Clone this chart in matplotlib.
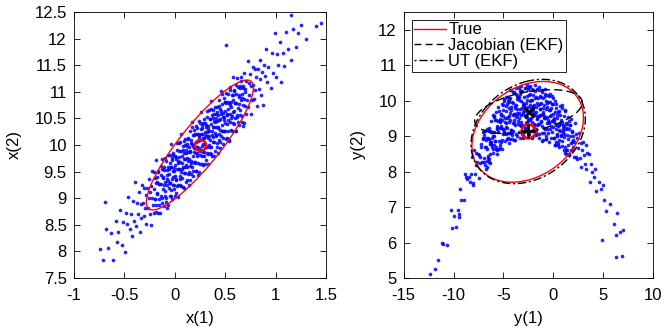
import numpy as np
import matplotlib
matplotlib.use("Agg")
import matplotlib.pyplot as plt
from matplotlib.patches import Ellipse
from matplotlib.ticker import FuncFormatter

plt.rcParams['font.family'] = ['Liberation Sans', 'DejaVu Sans']
plt.rcParams['font.size'] = 12

# samples in x-space (x(1), x(2))
x_samples = [
    (-0.74, 8.04), (-0.71, 7.83), (-0.68, 8.42), (-0.66, 8.07), (-0.63, 8.35), (-0.61, 7.84),
    (-0.58, 8.57), (-0.57, 8.18), (-0.56, 8.37), (-0.54, 8.77), (-0.52, 8.13), (-0.51, 8.56),
    (-0.49, 7.98), (-0.48, 8.72), (-0.47, 8.51), (-0.46, 9.03), (-0.44, 8.42), (-0.43, 8.71),
    (-0.42, 8.29), (-0.41, 8.94), (-0.40, 8.57), (-0.39, 9.30), (-0.38, 8.47), (-0.37, 8.91),
    (-0.36, 8.70), (-0.35, 9.11), (-0.34, 8.36), (-0.33, 8.89), (-0.33, 8.62), (-0.32, 9.24),
    (-0.31, 8.91), (-0.30, 8.66), (-0.30, 9.19), (-0.29, 8.82), (-0.28, 9.06), (-0.28, 8.51),
    (-0.27, 9.20), (-0.26, 8.81), (-0.25, 9.00), (-0.25, 9.36), (-0.24, 8.70), (-0.24, 9.11),
    (-0.23, 8.50), (-0.23, 9.22), (-0.22, 9.01), (-0.22, 9.51), (-0.21, 8.88), (-0.20, 9.17),
    (-0.20, 8.73), (-0.19, 9.38), (-0.19, 8.99), (-0.18, 9.72), (-0.18, 8.87), (-0.17, 9.31),
    (-0.17, 9.08), (-0.16, 9.49), (-0.16, 8.72), (-0.15, 9.26), (-0.15, 8.99), (-0.14, 9.61),
    (-0.14, 9.26), (-0.13, 9.01), (-0.13, 9.54), (-0.12, 9.17), (-0.69, 8.92),
    (-0.12, 9.39), (-0.11, 8.86), (-0.11, 9.53), (-0.10, 9.14), (-0.10, 9.31), (-0.09, 9.69),
    (-0.09, 9.01), (-0.08, 9.44), (-0.08, 8.81), (-0.08, 9.53), (-0.07, 9.32),
    (-0.07, 9.82), (-0.06, 9.19), (-0.06, 9.46), (-0.05, 9.04), (-0.05, 9.67), (-0.05, 9.28),
    (-0.04, 10.01), (-0.04, 9.16), (-0.04, 9.58), (-0.03, 9.37), (-0.03, 9.76), (-0.03, 8.99),
    (-0.02, 9.52), (-0.02, 9.25), (-0.02, 9.85), (-0.01, 9.52), (-0.01, 9.25), (0.00, 9.80),
    (0.00, 9.41), (0.00, 9.63), (0.01, 9.10), (0.01, 9.77), (0.01, 9.36), (0.02, 9.55),
    (0.02, 9.91), (0.03, 9.25), (0.03, 9.66), (0.03, 9.03), (0.04, 9.77), (0.04, 9.54),
    (0.04, 10.04), (0.05, 9.41), (0.05, 9.68), (0.05, 9.24), (0.06, 9.89), (0.06, 9.50),
    (0.06, 10.21), (0.07, 9.38), (0.07, 9.80), (0.08, 9.59), (0.08, 9.98), (0.08, 9.21),
    (0.09, 9.74), (0.09, 9.47), (0.09, 10.07), (0.10, 9.74), (0.10, 9.47), (0.10, 10.00),
    (0.11, 9.63), (0.11, 9.85), (0.11, 9.30), (0.12, 9.99), (0.12, 9.58), (0.12, 9.75),
    (0.13, 10.13), (0.13, 9.45), (0.13, 9.86), (0.14, 9.25), (0.14, 9.97), (0.14, 9.74),
    (0.15, 10.26), (0.15, 9.61), (0.15, 9.88), (0.16, 9.46), (0.16, 10.09), (0.16, 9.70),
    (0.17, 10.44), (0.17, 9.59), (0.17, 10.01), (0.18, 9.80), (0.18, 10.19), (0.18, 9.42),
    (0.19, 9.95), (0.19, 9.68), (0.19, 10.28), (0.20, 9.95), (0.20, 9.68), (0.20, 10.21),
    (0.21, 9.84), (0.21, 10.06), (0.21, 9.51), (0.22, 10.20), (0.22, 9.79), (0.22, 9.96),
    (0.22, 10.32), (0.23, 9.66), (0.23, 10.07), (0.23, 9.44), (0.24, 10.18), (0.24, 9.95),
    (0.24, 10.45), (0.25, 9.82), (0.25, 10.09), (0.25, 9.65), (0.26, 10.30), (0.26, 9.91),
    (0.26, 10.62), (0.27, 9.79), (0.27, 10.21), (0.27, 9.98), (0.27, 10.37), (0.28, 9.62),
    (0.28, 10.13), (0.28, 9.86), (0.29, 10.48), (0.29, 10.13), (0.29, 9.86), (0.30, 10.41),
    (0.30, 10.02), (0.30, 10.24), (0.31, 9.71), (0.31, 10.38), (0.31, 9.97), (0.32, 10.16),
    (0.32, 10.52), (0.32, 9.84), (0.32, 10.25), (0.33, 9.64), (0.33, 10.36), (0.33, 10.13),
    (0.34, 10.65), (0.34, 10.00), (0.34, 10.27), (0.35, 9.85), (0.35, 10.48), (0.35, 10.09),
    (0.36, 10.82), (0.36, 9.97), (0.36, 10.39), (0.37, 10.18), (0.37, 10.57), (0.37, 9.80),
    (0.38, 10.33), (0.38, 10.06), (0.38, 10.66), (0.39, 10.33), (0.39, 10.06), (0.39, 10.59),
    (0.40, 10.22), (0.40, 10.44), (0.40, 9.89), (0.41, 10.58), (0.41, 10.17), (0.41, 10.34),
    (0.42, 10.72), (0.42, 10.04), (0.42, 10.45), (0.43, 9.84), (0.43, 10.56), (0.43, 10.33),
    (0.44, 10.85), (0.44, 10.20), (0.44, 10.47), (0.45, 10.05), (0.45, 10.68), (0.45, 10.29),
    (0.46, 11.02), (0.46, 10.17), (0.46, 10.59), (0.47, 10.38), (0.47, 10.77), (0.48, 10.02),
    (0.48, 10.53), (0.48, 10.26), (0.49, 10.88), (0.49, 10.53), (0.49, 10.26), (0.50, 10.81),
    (0.50, 10.42), (0.50, 10.64), (0.51, 10.12), (0.51, 10.79), (0.52, 10.40), (0.52, 10.57),
    (0.53, 10.95), (0.53, 10.27), (0.53, 10.68), (0.54, 10.07), (0.54, 10.79), (0.55, 10.58),
    (0.55, 11.08), (0.55, 10.43), (0.56, 10.72), (0.56, 10.28), (0.57, 10.93), (0.57, 10.54),
    (0.58, 11.27), (0.58, 10.42), (0.58, 10.84), (0.59, 10.63), (0.59, 11.02), (0.60, 10.27),
    (0.60, 10.78), (0.60, 10.51), (0.61, 11.13), (0.61, 10.78), (0.62, 10.53), (0.51, 11.87),
    (0.63, 11.08), (0.63, 10.69), (0.64, 10.93), (0.64, 10.38), (0.65, 11.07), (0.65, 10.66),
    (0.66, 10.85), (0.66, 11.21), (0.67, 10.55), (0.67, 10.96), (0.68, 10.35), (0.68, 11.07),
    (0.69, 10.86), (0.69, 11.36), (0.70, 10.73), (0.70, 11.00), (0.71, 10.58), (0.71, 11.21),
    (0.72, 10.84), (0.73, 11.57), (0.73, 10.72), (0.74, 11.16), (0.74, 10.93), (0.75, 11.34),
    (0.76, 10.59), (0.76, 11.10), (0.77, 10.85), (0.78, 11.47), (0.78, 11.12), (0.79, 10.87),
    (0.80, 11.42), (0.80, 11.03), (0.81, 11.27), (0.82, 10.74), (0.83, 11.43), (0.84, 11.05),
    (0.85, 11.24), (0.85, 11.60), (0.86, 10.94), (0.87, 11.37), (0.88, 10.76), (0.89, 11.50),
    (0.90, 11.29), (0.91, 11.81), (0.92, 11.18), (0.93, 11.47), (0.95, 11.07), (0.96, 11.72),
    (0.97, 11.35), (0.99, 12.10), (1.00, 11.27), (1.01, 11.71), (1.02, 11.50), (1.04, 11.93),
    (1.05, 11.18), (1.07, 11.73), (1.08, 11.48), (1.10, 12.12), (1.12, 11.81), (1.15, 11.60),
    (1.17, 12.17), (1.20, 11.85), (1.22, 12.11), (1.25, 12.25), (1.30, 12.00), (1.40, 12.24),
    (1.45, 12.30), (1.15, 12.45),
]

# extra points filling the dense core of the left cloud
x_core_samples = [
    (-0.200, 9.50), (-0.194, 8.98), (-0.188, 9.29), (-0.182, 8.74), (-0.176, 9.40), (-0.170, 9.10),
    (-0.164, 9.51), (-0.158, 8.88), (-0.152, 9.26), (-0.146, 8.73), (-0.140, 9.43), (-0.134, 9.05),
    (-0.128, 9.73), (-0.122, 8.91), (-0.116, 9.38), (-0.110, 9.25), (-0.104, 9.58), (-0.098, 9.05),
    (-0.092, 9.75), (-0.086, 8.92), (-0.080, 9.36), (-0.074, 9.24), (-0.068, 9.59), (-0.062, 8.88),
    (-0.056, 9.54), (-0.050, 9.81), (-0.044, 9.28), (-0.038, 9.59), (-0.032, 9.05), (-0.026, 9.71),
    (-0.020, 9.40), (-0.014, 9.81), (-0.008, 9.18), (-0.002, 9.57), (0.004, 9.04), (0.010, 9.73),
    (0.016, 9.35), (0.022, 10.03), (0.028, 9.22), (0.034, 9.69), (0.040, 9.55), (0.046, 9.88),
    (0.052, 9.36), (0.058, 10.06), (0.064, 9.22), (0.070, 9.66), (0.076, 9.54), (0.082, 9.90),
    (0.088, 9.19), (0.094, 9.84), (0.100, 10.11), (0.106, 9.59), (0.112, 9.90), (0.118, 9.35),
    (0.124, 10.01), (0.130, 9.70), (0.136, 10.12), (0.142, 9.49), (0.148, 9.87), (0.154, 9.34),
    (0.160, 10.03), (0.166, 9.66), (0.172, 10.34), (0.178, 9.52), (0.184, 9.99), (0.190, 9.86),
    (0.196, 10.19), (0.202, 9.66), (0.208, 10.36), (0.214, 9.52), (0.220, 9.97), (0.226, 9.85),
    (0.232, 10.20), (0.238, 9.49), (0.244, 10.15), (0.250, 10.42), (0.256, 9.89), (0.262, 10.20),
    (0.268, 9.65), (0.274, 10.32), (0.280, 10.01), (0.286, 10.42), (0.292, 9.79), (0.298, 10.18),
    (0.304, 9.65), (0.310, 10.34), (0.316, 9.96), (0.322, 10.64), (0.328, 9.83), (0.334, 10.30),
    (0.340, 10.16), (0.346, 10.49), (0.352, 9.97), (0.358, 10.67), (0.364, 9.83), (0.370, 10.27),
    (0.376, 10.15), (0.382, 10.51), (0.388, 9.80), (0.394, 10.45), (0.400, 10.72), (0.406, 10.19),
    (0.412, 10.51), (0.418, 9.96), (0.424, 10.62), (0.430, 10.31), (0.436, 10.73), (0.442, 10.10),
    (0.448, 10.48), (0.454, 9.95), (0.460, 10.64), (0.466, 10.27), (0.472, 10.95), (0.478, 10.13),
    (0.484, 10.60), (0.490, 10.47), (0.496, 10.80), (0.502, 10.27), (0.508, 10.97), (0.514, 10.13),
    (0.520, 10.58), (0.526, 10.46), (0.532, 10.81), (0.538, 10.10), (0.544, 10.75), (0.550, 11.03),
    (0.556, 10.50), (0.562, 10.81), (0.568, 10.26), (0.574, 10.93), (0.580, 10.62), (0.586, 11.03),
    (0.592, 10.40), (0.598, 10.78), (0.604, 10.26), (0.610, 10.95), (0.616, 10.57), (0.622, 11.25),
    (0.628, 10.44), (0.634, 10.91), (0.640, 10.77), (0.646, 11.10), (0.652, 10.57), (0.658, 11.28),
    (0.664, 10.44), (0.670, 10.88), (0.676, 10.76), (0.682, 11.11), (0.688, 10.41), (0.694, 11.06),
]

# samples in y-space (y(1), y(2))
y_samples = [
    (-12.4, 5.11), (-11.9, 5.26), (-11.2, 6.00), (-10.65, 5.93), (-11.05, 5.96), (-11.6, 5.50),
    (-9.75, 6.45), (-10.3, 6.92), (-9.55, 6.92), (-10.0, 6.75), (-10.15, 6.41),
    (-8.7, 7.85), (-9.45, 6.80), (-8.85, 7.93), (-9.25, 7.19), (-8.6, 7.80), (-8.95, 7.21),
    (-9.35, 7.52), (-9.4, 6.72), (-7.9, 8.61), (-8.2, 7.93), (-7.65, 8.26), (-8.05, 7.69),
    (-7.75, 8.53), (-8.3, 7.71), (-7.55, 8.49), (-8.0, 7.61), (-8.15, 8.40), (-7.7, 8.18),
    (-8.45, 7.84), (-7.85, 7.92), (-7.25, 8.69), (-6.6, 8.30), (-6.95, 9.03), (-7.35, 8.25),
    (-7.4, 8.48), (-6.9, 8.28), (-7.2, 8.78), (-6.65, 8.14), (-7.05, 9.11), (-6.75, 8.68),
    (-7.3, 8.40), (-6.55, 8.39), (-7.0, 8.94), (-7.15, 8.28), (-6.7, 8.90), (-7.45, 7.81),
    (-6.85, 9.15), (-6.25, 8.83), (-5.6, 9.23), (-5.95, 8.74), (-6.35, 9.14), (-6.4, 8.35),
    (-5.9, 9.53), (-6.2, 8.78), (-5.65, 9.28), (-6.05, 8.63), (-5.75, 9.45), (-6.3, 8.25),
    (-5.55, 9.81), (-6.0, 9.00), (-6.15, 8.94), (-5.7, 8.70), (-6.45, 9.24), (-5.85, 8.85),
    (-6.25, 9.11), (-5.6, 8.60), (-5.95, 9.58), (-6.35, 8.79), (-6.4, 8.91),
    (-4.9, 9.08), (-5.2, 9.60), (-4.65, 8.92), (-5.05, 9.87), (-4.75, 9.26), (-5.3, 9.43),
    (-4.55, 9.09), (-5.0, 9.73), (-5.15, 8.64), (-4.7, 10.10), (-5.45, 9.24), (-4.85, 9.39),
    (-5.25, 8.84), (-4.6, 9.90), (-4.95, 9.14), (-5.35, 9.49), (-5.4, 8.65), (-4.9, 9.98),
    (-5.2, 9.23), (-4.65, 9.52), (-5.05, 9.05), (-4.75, 9.71), (-5.3, 8.75), (-4.55, 9.99),
    (-5.0, 9.20), (-5.15, 9.46), (-4.7, 9.05),
    (-4.45, 9.95), (-3.85, 8.90), (-4.25, 10.30), (-3.6, 9.64), (-3.95, 9.61), (-4.35, 9.09),
    (-4.4, 10.04), (-3.9, 9.37), (-4.2, 9.82), (-3.65, 9.00), (-4.05, 10.24), (-3.75, 9.55),
    (-4.3, 9.65), (-3.55, 9.33), (-4.0, 9.92), (-4.15, 9.03), (-3.7, 10.19), (-4.45, 9.40),
    (-3.85, 9.78), (-4.25, 9.18), (-3.6, 10.04), (-3.95, 8.88), (-4.35, 10.29), (-4.4, 9.56),
    (-3.9, 9.61), (-4.2, 9.10), (-3.65, 10.12), (-4.05, 9.36), (-3.75, 9.87), (-4.3, 8.93),
    (-2.55, 10.34), (-3.0, 9.62), (-3.15, 9.78), (-2.7, 9.38), (-3.45, 10.02), (-2.85, 9.14),
    (-3.25, 10.26), (-2.6, 9.54), (-2.95, 9.86), (-3.35, 9.30), (-3.4, 10.10), (-2.9, 8.98),
    (-3.2, 10.42), (-2.65, 9.70), (-3.05, 9.68), (-2.75, 9.22), (-3.3, 10.18), (-2.55, 9.46),
    (-3.0, 9.94), (-3.15, 9.06), (-2.7, 10.36), (-3.45, 9.64), (-2.85, 9.80), (-3.25, 9.40),
    (-2.6, 10.02), (-2.95, 9.12), (-3.35, 10.28), (-3.4, 9.52), (-2.9, 9.88), (-3.2, 9.28),
    (-2.65, 10.12), (-3.05, 8.96),
    (-2.45, 10.38), (-1.95, 9.66), (-2.2, 10.02), (-1.65, 9.30), (-2.05, 9.86), (-1.75, 9.12),
    (-2.3, 10.20), (-1.55, 9.58), (-2.0, 9.74), (-2.15, 9.40), (-1.7, 10.10), (-2.4, 9.06),
    (-1.85, 10.28), (-2.25, 9.52), (-1.6, 9.92), (-1.95, 9.22), (-2.35, 10.00), (-2.1, 8.98),
    (-1.8, 10.44), (-2.2, 9.70), (-2.45, 9.68), (-1.9, 9.34), (-2.05, 10.16), (-1.6, 9.48),
    (-2.3, 9.88), (-1.7, 9.02), (-2.15, 10.34), (-1.85, 9.60), (-2.4, 9.44), (-1.55, 10.06),
    (-2.0, 9.16), (-1.75, 9.82),
    (-1.45, 10.30), (-0.95, 9.56), (-1.2, 9.94), (-0.65, 9.20), (-1.05, 9.78), (-0.75, 9.00),
    (-1.3, 10.12), (-0.55, 9.46), (-1.0, 9.62), (-1.15, 9.28), (-0.7, 10.00), (-1.4, 8.96),
    (-0.85, 10.18), (-1.25, 9.42), (-0.6, 9.82), (-0.95, 9.10), (-1.35, 9.90), (-1.1, 8.86),
    (-0.8, 10.34), (-1.2, 9.60), (-1.45, 9.58), (-0.9, 9.24), (-1.05, 10.06), (-0.6, 9.38),
    (-1.3, 9.76), (-0.7, 8.92), (-1.15, 10.24), (-0.85, 9.50), (-1.4, 9.34), (-0.55, 9.96),
    (-0.45, 10.12), (0.05, 9.40), (-0.2, 9.78), (0.35, 9.00), (-0.05, 9.62), (0.25, 8.82),
    (-0.3, 9.96), (0.45, 9.28), (0.0, 9.46), (-0.15, 9.12), (0.3, 9.80), (-0.4, 8.84),
    (0.15, 10.00), (-0.25, 9.28), (0.4, 9.60), (0.05, 8.96), (-0.35, 9.74), (0.2, 8.74),
    (-0.1, 10.14), (0.1, 9.44), (-0.45, 9.40), (0.4, 9.06), (-0.05, 9.90), (0.25, 9.20),
    (-0.3, 9.56), (0.45, 8.80),
    (0.6, 9.70), (1.1, 9.06), (0.85, 9.40), (1.35, 8.62), (0.95, 9.24), (1.25, 8.60),
    (0.7, 9.60), (1.45, 8.92), (1.0, 9.12), (0.85, 8.86), (1.3, 9.36), (0.6, 8.70),
    (1.15, 9.70), (0.75, 9.04), (1.4, 9.22), (1.05, 8.62), (0.65, 9.34), (1.2, 8.52),
    (0.9, 9.80), (1.1, 9.28), (0.55, 9.16),
    (1.6, 9.42), (2.1, 8.82), (1.85, 9.14), (2.35, 8.36), (1.95, 9.00), (2.25, 8.40),
    (1.7, 9.30), (2.45, 8.66), (2.0, 8.90), (1.85, 8.60), (2.3, 9.06), (1.6, 8.48),
    (2.15, 9.38), (1.75, 8.80), (2.4, 8.94), (2.05, 8.42),
    (2.6, 9.08), (3.1, 8.48), (2.85, 8.80), (3.35, 8.06), (2.95, 8.62), (3.25, 8.20),
    (2.7, 8.38), (3.45, 8.52), (3.0, 8.84), (2.8, 8.14), (3.3, 8.74),
    (3.6, 8.50), (4.1, 7.86), (3.85, 8.20), (4.35, 7.46), (3.95, 8.00), (4.25, 8.06),
    (3.7, 7.72), (4.6, 7.72), (5.1, 7.20), (4.85, 7.50), (5.35, 6.90), (5.0, 7.62),
    (4.9, 6.06), (5.7, 7.10), (6.1, 6.52), (6.3, 6.20), (6.4, 6.82), (6.7, 6.30),
    (6.9, 5.62), (7.0, 6.35), (6.3, 5.60),
]

# extra points filling the dense top of the arc
y_core_samples = [
    (-7.00, 8.91), (-6.95, 8.39), (-6.90, 9.15), (-6.85, 8.19), (-6.80, 8.70), (-6.75, 8.08),
    (-6.70, 8.94), (-6.65, 8.65), (-6.60, 9.20), (-6.55, 8.44), (-6.50, 8.94), (-6.45, 8.26),
    (-6.40, 9.14), (-6.35, 8.84), (-6.30, 8.49), (-6.25, 9.43), (-6.20, 8.78), (-6.15, 9.12),
    (-6.10, 8.70), (-6.05, 9.60), (-6.00, 8.51), (-5.95, 9.12), (-5.90, 9.01), (-5.85, 9.45),
    (-5.80, 8.87), (-5.75, 9.68), (-5.70, 8.64), (-5.65, 9.19), (-5.60, 8.50), (-5.55, 9.43),
    (-5.50, 9.11), (-5.45, 9.70), (-5.40, 8.87), (-5.35, 9.40), (-5.30, 8.66), (-5.25, 9.61),
    (-5.20, 9.28), (-5.15, 8.89), (-5.10, 9.91), (-5.05, 9.19), (-5.00, 9.56), (-4.95, 9.08),
    (-4.90, 10.05), (-4.85, 8.86), (-4.80, 9.51), (-4.75, 9.37), (-4.70, 9.86), (-4.65, 9.22),
    (-4.60, 10.10), (-4.55, 8.96), (-4.50, 9.55), (-4.45, 8.80), (-4.40, 9.79), (-4.35, 9.44),
    (-4.30, 10.08), (-4.25, 9.17), (-4.20, 9.74), (-4.15, 8.93), (-4.10, 9.95), (-4.05, 9.59),
    (-4.00, 9.15), (-3.95, 10.25), (-3.90, 9.46), (-3.85, 9.85), (-3.80, 9.32), (-3.75, 10.35),
    (-3.70, 9.06), (-3.65, 9.75), (-3.60, 9.60), (-3.55, 10.11), (-3.50, 9.42), (-3.45, 10.35),
    (-3.40, 9.12), (-3.35, 9.75), (-3.30, 8.94), (-3.25, 9.99), (-3.20, 9.60), (-3.15, 10.27),
    (-3.10, 9.30), (-3.05, 9.89), (-3.00, 9.04), (-2.95, 10.09), (-2.90, 9.70), (-2.85, 9.23),
    (-2.80, 10.36), (-2.75, 9.54), (-2.70, 9.93), (-2.65, 9.39), (-2.60, 10.44), (-2.55, 9.12),
    (-2.50, 9.82), (-2.45, 9.66), (-2.40, 10.17), (-2.35, 9.47), (-2.30, 10.40), (-2.25, 9.15),
    (-2.20, 9.78), (-2.15, 8.96), (-2.10, 10.01), (-2.05, 9.62), (-2.00, 10.29), (-1.95, 9.31),
    (-1.90, 9.89), (-1.85, 9.03), (-1.80, 10.07), (-1.75, 9.68), (-1.70, 9.21), (-1.65, 10.32),
    (-1.60, 9.51), (-1.55, 9.89), (-1.50, 9.34), (-1.45, 10.37), (-1.40, 9.07), (-1.35, 9.75),
    (-1.30, 9.59), (-1.25, 10.09), (-1.20, 9.39), (-1.15, 10.30), (-1.10, 9.09), (-1.05, 9.69),
    (-1.00, 8.89), (-0.95, 9.89), (-0.90, 9.52), (-0.85, 10.14), (-0.80, 9.20), (-0.75, 9.75),
    (-0.70, 8.93), (-0.65, 9.92), (-0.60, 9.54), (-0.55, 9.09), (-0.50, 10.15), (-0.45, 9.38),
    (-0.40, 9.73), (-0.35, 9.21), (-0.30, 10.18), (-0.25, 8.96), (-0.20, 9.59), (-0.15, 9.43),
    (-0.10, 9.90), (-0.05, 9.25), (0.00, 10.08), (0.05, 8.95), (0.10, 9.50), (0.15, 8.75),
    (0.20, 9.68), (0.25, 9.32), (0.30, 9.90), (0.35, 9.02), (0.40, 9.52), (0.45, 8.76),
    (0.50, 9.67), (0.55, 9.31), (0.60, 8.90), (0.65, 9.86), (0.70, 9.15), (0.75, 9.46),
    (0.80, 8.99), (0.85, 9.87), (0.90, 8.73), (0.95, 9.31), (1.00, 9.17), (1.05, 9.58),
    (1.10, 8.98), (1.15, 9.74), (1.20, 8.69), (1.25, 9.19), (1.30, 8.50), (1.35, 9.35),
    (1.40, 9.02), (1.45, 9.54), (1.50, 8.74), (1.55, 9.19), (1.60, 8.49), (1.65, 9.32),
    (1.70, 8.99), (1.75, 8.61), (1.80, 9.48), (1.85, 8.83), (1.90, 9.11), (1.95, 8.68),
]

# 2-sigma covariance ellipses: centre, std x, std y, correlation
x_mean = (0.25, 10.0)
x_ellipse = dict(center=x_mean, sx=0.265, sy=0.61, rho=0.88)

true_mean = (-2.55, 9.14)
ekf_mean = (-2.47, 9.69)
ut_mean = (-2.52, 9.14)
true_ellipse = dict(center=(-2.55, 9.12), sx=2.80, sy=0.71, rho=0.28)
ekf_ellipse = dict(center=ekf_mean, sx=2.70, sy=0.31, rho=0.41)
ut_ellipse = dict(center=(-2.50, 9.13), sx=2.87, sy=0.735, rho=0.25)

legend_labels = ['True', 'Jacobian (EKF)', 'UT (EKF)']


def cov_ellipse(center, sx, sy, rho, k=2.0, **kw):
    c = np.array([[sx**2, rho * sx * sy], [rho * sx * sy, sy**2]])
    vals, vecs = np.linalg.eigh(c)
    angle = np.degrees(np.arctan2(vecs[1, 1], vecs[0, 1]))
    return Ellipse(center, 2 * k * np.sqrt(vals[1]), 2 * k * np.sqrt(vals[0]),
                   angle=angle, fill=False, **kw)


def style_axes(ax):
    ax.tick_params(direction='in', top=True, right=True, length=4, width=0.6,
                   labelsize=12)
    ax.tick_params(axis='x', pad=7)
    ax.tick_params(axis='y', pad=5)
    ax.xaxis.set_major_formatter(FuncFormatter(lambda v, p: '%g' % v))
    ax.yaxis.set_major_formatter(FuncFormatter(lambda v, p: '%g' % v))
    for s in ax.spines.values():
        s.set_linewidth(0.6)


fig = plt.figure(figsize=(6.64, 3.31), dpi=100)
ax1 = fig.add_axes([0.111, 0.160, 0.380, 0.804])
ax2 = fig.add_axes([0.608, 0.160, 0.375, 0.804])

dot = dict(s=7, color='#0000ff', linewidths=0, alpha=0.85)

xs = np.array(x_samples + x_core_samples)
ax1.scatter(xs[:, 0], xs[:, 1], **dot)
ax1.add_patch(cov_ellipse(**x_ellipse, edgecolor='red', linewidth=1.0))
ax1.plot(*x_mean, 'o', mfc='none', mec='red', ms=8, mew=1.8)
ax1.set_xlim(-1, 1.5)
ax1.set_ylim(7.5, 12.5)
ax1.set_xticks([-1, -0.5, 0, 0.5, 1, 1.5])
ax1.set_yticks(np.arange(7.5, 12.51, 0.5))
ax1.set_xlabel('x(1)', fontsize=12, labelpad=6)
ax1.set_ylabel('x(2)', fontsize=12, labelpad=9)
style_axes(ax1)

ys = np.array(y_samples + y_core_samples)
ax2.scatter(ys[:, 0], ys[:, 1], **dot)
ax2.add_patch(cov_ellipse(**true_ellipse, edgecolor='red', linewidth=1.0))
ax2.add_patch(cov_ellipse(**ekf_ellipse, edgecolor='black', linewidth=1.0,
                          linestyle=(0, (6, 3))))
ax2.add_patch(cov_ellipse(**ut_ellipse, edgecolor='black', linewidth=1.0,
                          linestyle=(0, (6, 2, 1.5, 2))))
ax2.plot(*true_mean, 'o', mfc='none', mec='red', ms=10, mew=1.8)
ax2.plot(*ut_mean, '+', color='black', ms=10, mew=2)
ax2.plot(*ekf_mean, 'x', color='black', ms=7, mew=2)

h_true, = ax2.plot([], [], color='red', linewidth=1.0)
h_ekf, = ax2.plot([], [], color='black', linewidth=1.0, linestyle=(0, (5, 3)))
h_ut, = ax2.plot([], [], color='black', linewidth=1.0, linestyle=(0, (1.5, 2, 6, 2)))
leg = ax2.legend([h_true, h_ekf, h_ut], legend_labels,
                 loc='upper left', bbox_to_anchor=(0.032, 0.97), fancybox=False,
                 edgecolor='black', framealpha=1, fontsize=12, handlelength=1.9,
                 handletextpad=0.15, borderpad=0.15, labelspacing=0.05,
                 borderaxespad=0)
leg.get_frame().set_linewidth(0.6)

ax2.set_xlim(-15, 10)
ax2.set_ylim(5, 12.5)
ax2.set_xticks([-15, -10, -5, 0, 5, 10])
ax2.set_yticks(np.arange(5, 13, 1))
ax2.set_xlabel('y(1)', fontsize=12, labelpad=6)
ax2.set_ylabel('y(2)', fontsize=12, labelpad=9)
style_axes(ax2)

fig.savefig('out.png', dpi=100)
